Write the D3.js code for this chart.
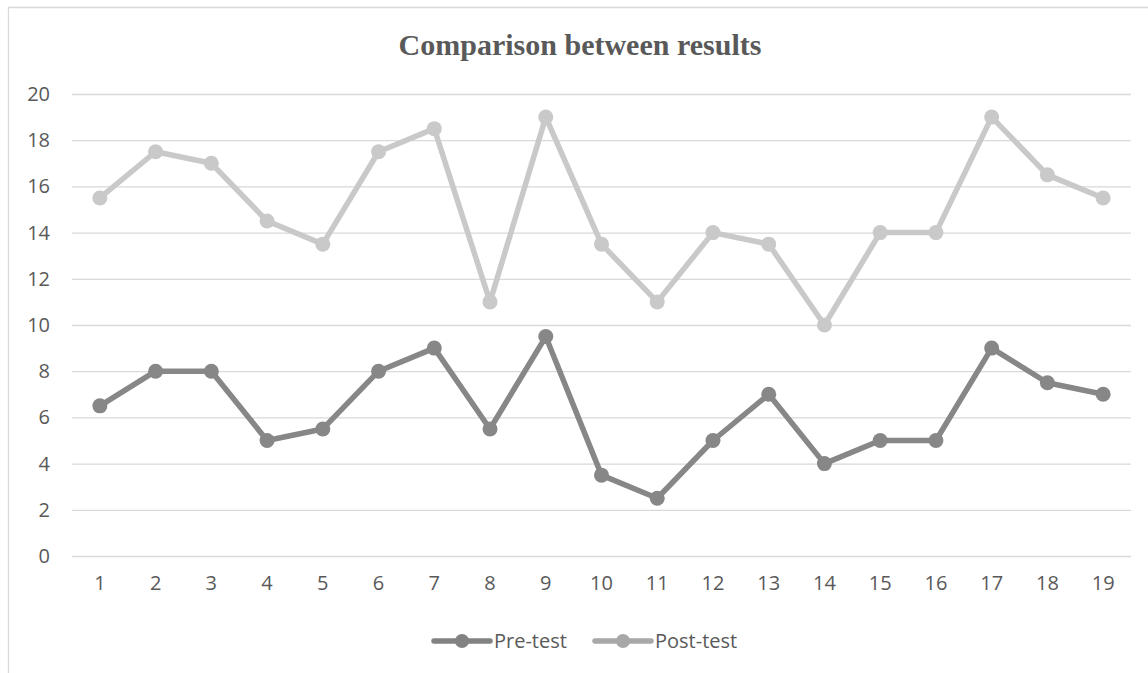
<!DOCTYPE html>
<html>
<head>
<meta charset="utf-8">
<script src="https://cdn.jsdelivr.net/npm/d3@7"></script>
<style>
  html, body { margin: 0; padding: 0; background: #ffffff; }
  svg { display: block; }
</style>
</head>
<body>
<svg id="chart" width="1148" height="673"></svg>
<script>
// Scores per participant, before and after
const participants = ["1","2","3","4","5","6","7","8","9","10","11","12","13","14","15","16","17","18","19"];
const preTest  = [6.5, 8, 8, 5, 5.5, 8, 9, 5.5, 9.5, 3.5, 2.5, 5, 7, 4, 5, 5, 9, 7.5, 7];
const postTest = [15.5, 17.5, 17, 14.5, 13.5, 17.5, 18.5, 11, 19, 13.5, 11, 14, 13.5, 10, 14, 14, 19, 16.5, 15.5];
const yTicks = [0, 2, 4, 6, 8, 10, 12, 14, 16, 18, 20];
const seriesNames = ["Pre-test", "Post-test"];

const W = 1148, H = 673;
const plot = { left: 72, right: 1131, top: 94, bottom: 556 };
const textColor = "#595959";
const gridColor = "#d9d9d9";

const series = [
  { name: seriesNames[0], values: preTest,  color: "#878787", legendColor: "#828282" },
  { name: seriesNames[1], values: postTest, color: "#c9c9c9", legendColor: "#a8a8a8" }
];

const svg = d3.select("#chart");

// Outer frame (left and top edges visible)
svg.append("path")
  .attr("d", `M8.5,${H} L8.5,7.5 L${W},7.5`)
  .attr("fill", "none")
  .attr("stroke", gridColor)
  .attr("stroke-width", 1.3);

const x = d3.scaleBand()
  .domain(participants)
  .range([plot.left, plot.right]);

const y = d3.scaleLinear()
  .domain([0, 20])
  .range([plot.bottom, plot.top]);

// Title
svg.append("text")
  .attr("x", 580)
  .attr("y", 55)
  .attr("text-anchor", "middle")
  .attr("font-family", "'Liberation Serif', 'Times New Roman', serif")
  .attr("font-weight", "bold")
  .attr("font-size", 30)
  .attr("fill", textColor)
  .text("Comparison between results");

// Horizontal gridlines
const yAxis = d3.axisLeft(y)
  .tickValues(yTicks)
  .tickSize(-(plot.right - plot.left))
  .tickPadding(22)
  .tickFormat(d3.format("d"));

const gy = svg.append("g")
  .attr("transform", `translate(${plot.left},0)`)
  .call(yAxis);
gy.select(".domain").remove();
gy.selectAll(".tick line")
  .attr("stroke", gridColor)
  .attr("stroke-width", 1.3);
gy.selectAll(".tick text")
  .attr("font-family", "'Open Sans', 'Noto Sans', sans-serif")
  .attr("font-size", 20)
  .attr("fill", textColor);

// Category axis labels
const xAxis = d3.axisBottom(x).tickSize(0).tickPadding(20);
const gx = svg.append("g")
  .attr("transform", `translate(0,${plot.bottom})`)
  .call(xAxis);
gx.select(".domain").remove();
gx.selectAll(".tick text")
  .attr("font-family", "'Open Sans', 'Noto Sans', sans-serif")
  .attr("font-size", 20)
  .attr("fill", textColor);

const cx = d => x(d) + x.bandwidth() / 2;

const line = d3.line()
  .x((d, i) => cx(participants[i]))
  .y(d => y(d));

// Lines with circular markers, post-test drawn first so pre-test sits on top
series.slice().reverse().forEach(s => {
  const g = svg.append("g");
  g.append("path")
    .datum(s.values)
    .attr("d", line)
    .attr("fill", "none")
    .attr("stroke", s.color)
    .attr("stroke-width", 5.5)
    .attr("stroke-linejoin", "round");
  g.selectAll("circle")
    .data(s.values)
    .join("circle")
    .attr("cx", (d, i) => cx(participants[i]))
    .attr("cy", d => y(d))
    .attr("r", 7.5)
    .attr("fill", s.color);
});

// Legend
const legendItems = [
  { s: series[0], x0: 434 },
  { s: series[1], x0: 595 }
];
const ly = 641;
legendItems.forEach(({ s, x0 }) => {
  const g = svg.append("g");
  g.append("line")
    .attr("x1", x0).attr("x2", x0 + 56)
    .attr("y1", ly).attr("y2", ly)
    .attr("stroke", s.legendColor)
    .attr("stroke-width", 5.5)
    .attr("stroke-linecap", "round");
  g.append("circle")
    .attr("cx", x0 + 28).attr("cy", ly)
    .attr("r", 7)
    .attr("fill", s.legendColor);
  g.append("text")
    .attr("x", x0 + 60)
    .attr("y", ly)
    .attr("dy", "0.35em")
    .attr("font-family", "'Open Sans', 'Noto Sans', sans-serif")
    .attr("font-size", 20)
    .attr("fill", textColor)
    .text(s.name);
});
</script>
</body>
</html>
